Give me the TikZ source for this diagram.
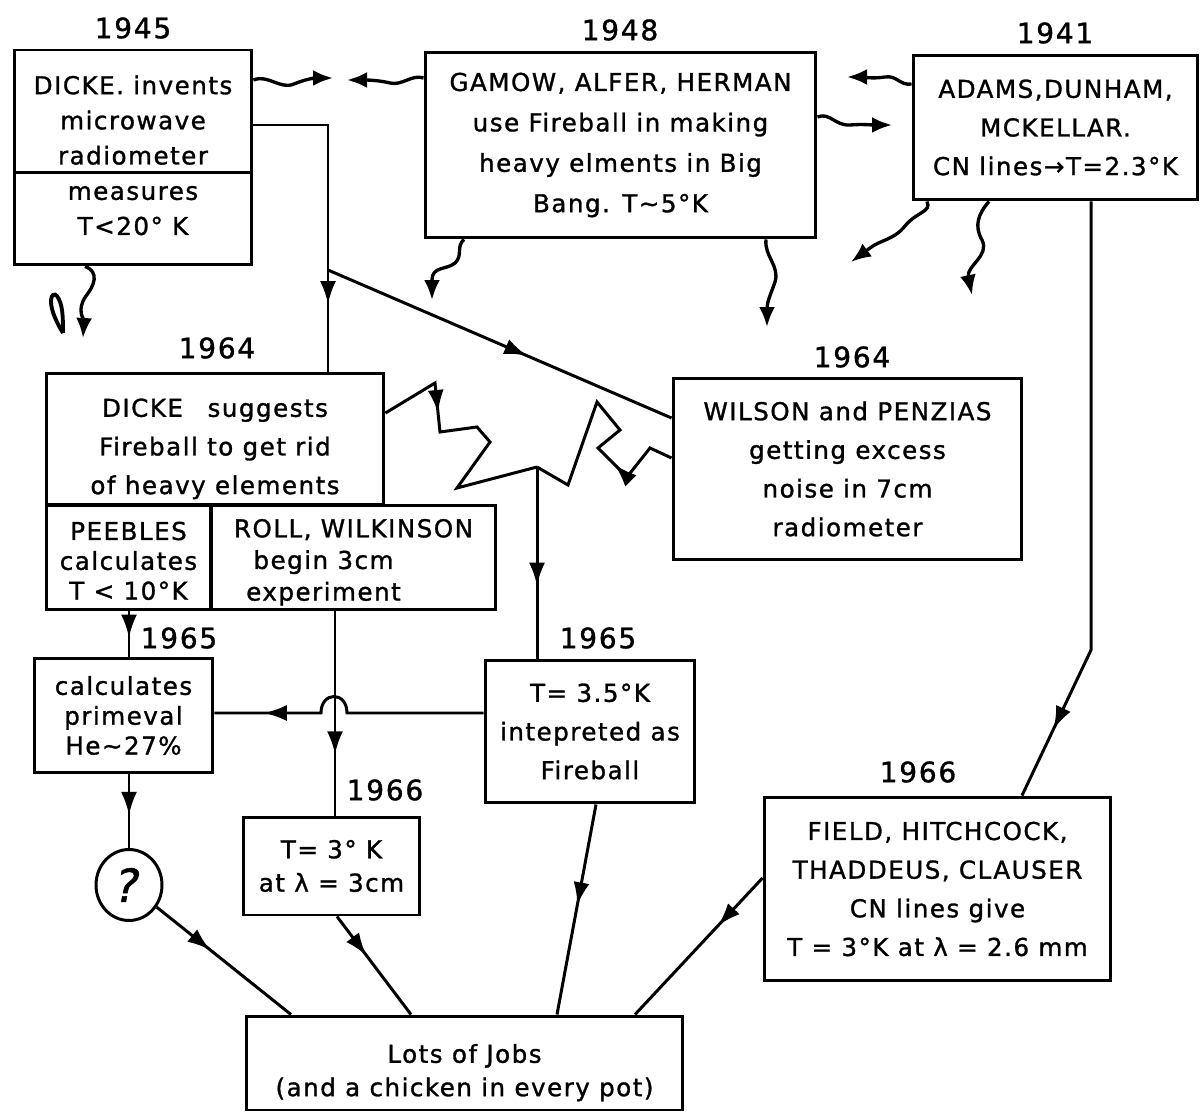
\documentclass[tikz,border=0pt]{standalone}
\usepackage{fontspec}
\setmainfont{DejaVu Sans}[LetterSpace=6, FakeBold=1.2]
\usetikzlibrary{arrows.meta, decorations.markings, shapes.geometric}

\begin{document}
\begin{tikzpicture}[x=0.02cm, y=-0.02cm, line width=1.7pt,
        every node/.style={font=\fontsize{14}{22}\selectfont},
        event/.style={draw, line width=1.7pt, align=center, inner sep=0pt},
        year/.style={font=\fontsize{16}{18}\selectfont},
        flow/.style={postaction={decorate}, decoration={markings, mark=at position #1 with {\arrow{Latex[length=0.46cm, width=0.32cm]}}}},
        wave/.style={line width=1.9pt, -{Latex[length=0.4cm, width=0.32cm]}}
    ]
    \useasboundingbox (0,0) rectangle (1200,1114);

    % Fila superior
    \node[year] (year1945) at (133,28) {1945};
    \node[event, minimum width=4.76cm, minimum height=2.46cm, font=\fontsize{14}{20}\selectfont] (dicke45) at (133,111.5) {\rule{0pt}{0.72cm}DICKE. invents\\microwave\\radiometer};
    \node[event, minimum width=4.76cm, minimum height=1.84cm, font=\fontsize{14}{20}\selectfont] (dickeMeasures) at (133,219) {measures\\T<20° K\rule[-0.34cm]{0pt}{0.1pt}};

    \node[year] (year1948) at (620,30) {1948};
    \node[event, minimum width=7.82cm, minimum height=3.72cm, font=\fontsize{14}{23}\selectfont] (gamow) at (620.5,145) {GAMOW, ALFER, HERMAN\\use Fireball in making\\heavy elments in Big\\Bang. T\textasciitilde5°K};

    \node[year] (year1941) at (1055,33) {1941};
    \node[event, minimum width=5.7cm, minimum height=2.9cm] (adams) at (1055.5,127.5) {ADAMS,DUNHAM,\\MCKELLAR.\\CN lines→T=2.3°K};

    % Fila 1964
    \node[year] (year1964a) at (217,348) {1964};
    \node[event, minimum width=6.76cm, minimum height=2.64cm] (dickeSuggests) at (215,439) {\rule{0pt}{0.76cm}DICKE\quad suggests\\Fireball to get rid\\of heavy elements};
    \node[event, minimum width=3.3cm, minimum height=2.1cm, font=\fontsize{14}{17}\selectfont] (peebles) at (128.5,557.5) {\rule{0pt}{0.5cm}PEEBLES\\calculates\\T < 10°K};
    \node[event, minimum width=5.7cm, minimum height=2.1cm, font=\fontsize{14}{18}\selectfont] (roll) at (353.5,557.5) {\rule{0pt}{0.56cm}ROLL, WILKINSON\\begin 3cm\rule{1.2cm}{0pt}\\experiment\rule{1.2cm}{0pt}};

    \node[year] (year1964b) at (852,357) {1964};
    \node[event, minimum width=6.98cm, minimum height=3.64cm] (wilson) at (847.5,469) {WILSON and PENZIAS\\getting excess\\noise in 7cm\\radiometer};

    % Fila 1965 y 1966
    \node[year] (year1965a) at (179,638) {1965};
    \node[event, minimum width=3.58cm, minimum height=2.3cm, font=\fontsize{14}{17}\selectfont] (calcHelium) at (123.5,715.5) {calculates\\primeval\\He\textasciitilde27\%};

    \node[year] (year1965b) at (598,638) {1965};
    \node[event, minimum width=4.2cm, minimum height=2.86cm] (fireball) at (590,731.5) {T= 3.5°K\\intepreted as\\Fireball};

    \node[year] (year1966a) at (385,790) {1966};
    \node[event, minimum width=3.54cm, minimum height=1.96cm, font=\fontsize{14}{19}\selectfont] (rollResult) at (331.5,866) {T= 3° K\\at λ = 3cm};

    \node[year] (year1966b) at (918,772) {1966};
    \node[event, minimum width=6.94cm, minimum height=3.68cm] (field) at (937.5,889) {FIELD, HITCHCOCK,\\THADDEUS, CLAUSER\\CN lines give\\T = 3°K at λ = 2.6 mm};

    \node[event, ellipse, minimum width=1.32cm, minimum height=1.42cm, font=\fontsize{26}{28}\selectfont] (question) at (129,885) {\textit{?}};

    \node[event, minimum width=8.74cm, minimum height=1.88cm, font=\fontsize{14}{19}\selectfont] (lotsJobs) at (464.5,1063) {\rule{0pt}{0.76cm}Lots of Jobs\\(and a chicken in every pot)};

    % Puntos libres
    \coordinate (branch) at (328,270);
    \coordinate (join) at (537,467);
    \coordinate (bend) at (1091,650);
    \coordinate (waveA) at (333,78);
    \coordinate (waveB) at (347,80);
    \coordinate (waveC) at (847,77);
    \coordinate (waveD) at (892,125);
    \coordinate (waveE) at (83,338);
    \coordinate (waveF) at (432,300);
    \coordinate (waveG) at (767,327);
    \coordinate (waveH) at (851,262);
    \coordinate (waveI) at (972,295);

    % Flechas onduladas
    \draw[wave] (dicke45.east |- 0,80) .. controls (268,74) and (280,90) .. (294,84) .. controls (306,79) and (315,78) .. (waveA);
    \draw[wave] (gamow.west |- 0,78) .. controls (412,74) and (402,86) .. (390,83) .. controls (378,80) and (365,80) .. (waveB);
    \draw[wave] (adams.west |- 0,84) .. controls (900,86) and (897,75) .. (885,77) .. controls (872,79) and (862,77) .. (waveC);
    \draw[wave] (gamow.east |- 0,117) .. controls (830,112) and (835,126) .. (850,125) .. controls (862,124) and (872,125) .. (waveD);
    \draw[wave] (85,0 |- dickeMeasures.south) .. controls (100,272) and (94,286) .. (86,296) .. controls (76,310) and (84,320) .. (waveE);
    \draw[line width=2.2pt] (63,333) .. controls (44,302) and (52,290) .. (57,296) .. controls (63,304) and (63,318) .. (63,333);
    \draw[wave] (464,0 |- gamow.south) .. controls (456,246) and (463,256) .. (455,263) .. controls (447,270) and (432,266) .. (432,280) -- (waveF);
    \draw[wave] (766,0 |- gamow.south) .. controls (764,256) and (780,266) .. (775,282) .. controls (770,296) and (767,302) .. (waveG);
    \draw[wave] (927,0 |- adams.south) .. controls (932,212) and (916,212) .. (905,226) .. controls (894,240) and (880,240) .. (870,248) -- (waveH);
    \draw[wave] (989,0 |- adams.south) .. controls (978,214) and (974,226) .. (982,240) .. controls (990,256) and (966,266) .. (waveI);

    % Aristas
    \draw[flow=0.79] (dicke45.east |- 0,125) -| (328,0 |- dickeSuggests.north);
    \draw[flow=0.58] (branch) -- (wilson.west |- 0,418);
    \draw[flow=0.29] (dickeSuggests.east |- 0,413) -- (435,383) -- (440,432) -- (477,427) -- (490,442) -- (457,488) -- (join);
    \draw[flow=0.27] (wilson.west |- 0,458) -- (650,448) -- (627,477) -- (598,448) -- (620,430) -- (597,402) -- (568,485) -- (join);
    \draw[flow=0.62] (join) -- (537,0 |- fireball.north);
    \draw[flow=0.88] (1091,0 |- adams.south) -- (bend) -- (1022,0 |- field.north);
    \draw[flow=0.58] (129,0 |- peebles.south) -- (129,0 |- calcHelium.north);
    \draw[flow=0.7] (335,0 |- roll.south) -- (335,0 |- rollResult.north);
    \draw[flow=0.83] (fireball.west |- 0,713) -- (347,713) .. controls (347,691) and (321,691) .. (321,713) -- (calcHelium.east |- 0,713);
    \draw[flow=0.55] (129,0 |- calcHelium.south) -- (question.north);
    \draw[flow=0.4] (question) -- (291,0 |- lotsJobs.north);
    \draw[flow=0.4] (337,0 |- rollResult.south) -- (411,0 |- lotsJobs.north);
    \draw[flow=0.48] (596,0 |- fireball.south) -- (557,0 |- lotsJobs.north);
    \draw[flow=0.35] (field.west |- 0,878) -- (635,0 |- lotsJobs.north);
\end{tikzpicture}
\end{document}
